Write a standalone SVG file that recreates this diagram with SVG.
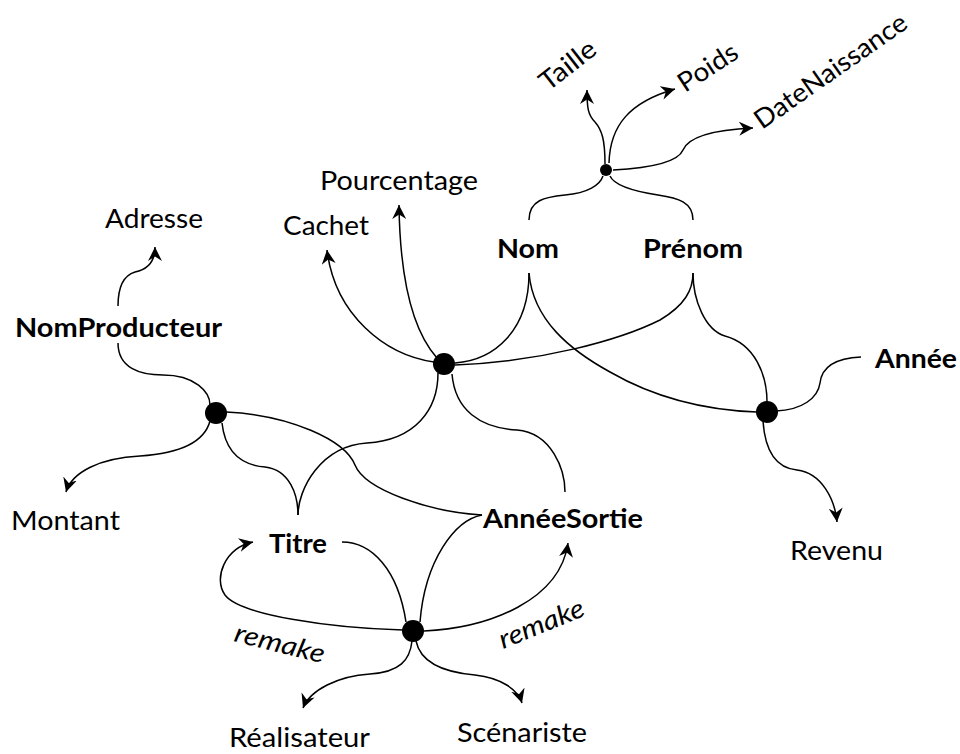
<svg xmlns="http://www.w3.org/2000/svg" width="960" height="754" viewBox="0 0 960 754">
<defs>
<marker id="arr" markerUnits="userSpaceOnUse" markerWidth="18" markerHeight="16" refX="14" refY="7" orient="auto">
<path d="M0,0 L14,7 L0,14 L4.5,7 z" fill="#000"/>
</marker>
<style>
.c{fill:none;stroke:#000;stroke-width:1.5}
.a{marker-end:url(#arr)}
.t{font-family:Lato,"Liberation Sans",sans-serif;font-size:26.5px;fill:#000}
.b{font-weight:bold}
.i{font-style:italic}
.d{fill:#000}
</style>
</defs>
<rect width="960" height="754" fill="#fff"/>
<g id="connectors">
<path class="c a" d="M605,164 C605,140 602,130 595,122 C588,115 587,108 587,90"/>
<path class="c a" d="M609,163 C610,125 630,102 675,89"/>
<path class="c a" d="M613,170 C650,168 678,162 683,150 C688,138 710,130 753,128"/>
<path class="c" d="M529,220 C529,200 545,197 565,195 C588,193 600,185 603,176"/>
<path class="c" d="M693,220 C693,202 678,198 658,195 C632,191 614,185 610,176"/>
<path class="c a" d="M434,362 C385,355 335,315 327,250"/>
<path class="c a" d="M437,358 C412,330 400,280 399,205"/>
<path class="c" d="M529,273 C529,330 495,360 455,363"/>
<path class="c" d="M455,365 C540,362 620,340 660,320 C685,305 693,290 693,273"/>
<path class="c" d="M529,273 C533,320 570,350 610,372 C650,395 700,410 757,412"/>
<path class="c" d="M693,273 C693,300 705,330 725,336 C755,344 767,375 767,402"/>
<path class="c" d="M776,411 C802,410 818,398 820,383 C822,365 838,358 861,357"/>
<path class="c a" d="M763,421 C765,450 775,468 797,470 C822,473 835,500 837,522"/>
<path class="c" d="M438,373 C438,410 415,440 367,443 C320,446 298,490 298,515"/>
<path class="c" d="M452,374 C455,410 480,428 517,430 C552,433 565,470 565,492"/>
<path class="c" d="M118,343 C118,368 140,375 163,375 C195,375 210,392 210,405"/>
<path class="c a" d="M118,306 C118,285 125,275 135,272 C150,269 155,260 155,247"/>
<path class="c a" d="M210,421 C205,440 185,453 140,456 C100,458 72,472 66,492"/>
<path class="c" d="M226,412 C290,415 345,440 355,465 C365,490 430,512 482,515"/>
<path class="c" d="M222,423 C225,450 240,465 265,467 C290,470 298,495 298,515"/>
<path class="c" d="M342,542 C372,542 398,570 406,622"/>
<path class="c" d="M482,515 C455,520 425,560 420,622"/>
<path class="c a" d="M403,630 C330,628 240,615 225,595 C213,578 225,548 253,542"/>
<path class="c a" d="M424,631 C490,628 560,600 568,543"/>
<path class="c a" d="M412,641 C410,660 400,672 370,674 C338,676 310,690 303,708"/>
<path class="c a" d="M416,641 C420,660 440,672 475,675 C502,678 518,690 522,703"/>
</g>
<g id="n-top"><circle class="d" cx="606" cy="170" r="6"/></g>
<g id="n-center"><circle class="d" cx="444" cy="364" r="11"/></g>
<g id="n-left"><circle class="d" cx="216" cy="413" r="11"/></g>
<g id="n-right"><circle class="d" cx="767" cy="412" r="11"/></g>
<g id="n-bottom"><circle class="d" cx="413" cy="631" r="11"/></g>
<g id="taille"><text class="t" transform="translate(548,92) rotate(-38)" textLength="64" lengthAdjust="spacingAndGlyphs">Taille</text></g>
<g id="poids"><text class="t" transform="translate(685,93) rotate(-33)" textLength="66" lengthAdjust="spacingAndGlyphs">Poids</text></g>
<g id="datenaissance"><text class="t" transform="translate(762,130) rotate(-35)" textLength="180" lengthAdjust="spacingAndGlyphs">DateNaissance</text></g>
<g id="pourcentage"><text class="t" x="320" y="190" textLength="158" lengthAdjust="spacingAndGlyphs">Pourcentage</text></g>
<g id="cachet"><text class="t" x="283" y="235" textLength="86" lengthAdjust="spacingAndGlyphs">Cachet</text></g>
<g id="adresse"><text class="t" x="105" y="228" textLength="98" lengthAdjust="spacingAndGlyphs">Adresse</text></g>
<g id="nom"><text class="t b" x="497" y="258" textLength="62" lengthAdjust="spacingAndGlyphs">Nom</text></g>
<g id="prenom"><text class="t b" x="643" y="258" textLength="100" lengthAdjust="spacingAndGlyphs">Prénom</text></g>
<g id="nomproducteur"><text class="t b" x="15" y="337" textLength="207" lengthAdjust="spacingAndGlyphs">NomProducteur</text></g>
<g id="annee"><text class="t b" x="875" y="368" textLength="82" lengthAdjust="spacingAndGlyphs">Année</text></g>
<g id="montant"><text class="t" x="11" y="530" textLength="109" lengthAdjust="spacingAndGlyphs">Montant</text></g>
<g id="titre"><text class="t b" x="269" y="553" textLength="58" lengthAdjust="spacingAndGlyphs">Titre</text></g>
<g id="anneesortie"><text class="t b" x="483" y="528" textLength="160" lengthAdjust="spacingAndGlyphs">AnnéeSortie</text></g>
<g id="revenu"><text class="t" x="790" y="560" textLength="93" lengthAdjust="spacingAndGlyphs">Revenu</text></g>
<g id="realisateur"><text class="t" x="229" y="747" textLength="141" lengthAdjust="spacingAndGlyphs">Réalisateur</text></g>
<g id="scenariste"><text class="t" x="457" y="742" textLength="130" lengthAdjust="spacingAndGlyphs">Scénariste</text></g>
<g id="remake1"><text class="t i" transform="translate(233,641) rotate(14)" textLength="92" lengthAdjust="spacingAndGlyphs">remake</text></g>
<g id="remake2"><text class="t i" transform="translate(503,649) rotate(-22)" textLength="90" lengthAdjust="spacingAndGlyphs">remake</text></g>
</svg>
